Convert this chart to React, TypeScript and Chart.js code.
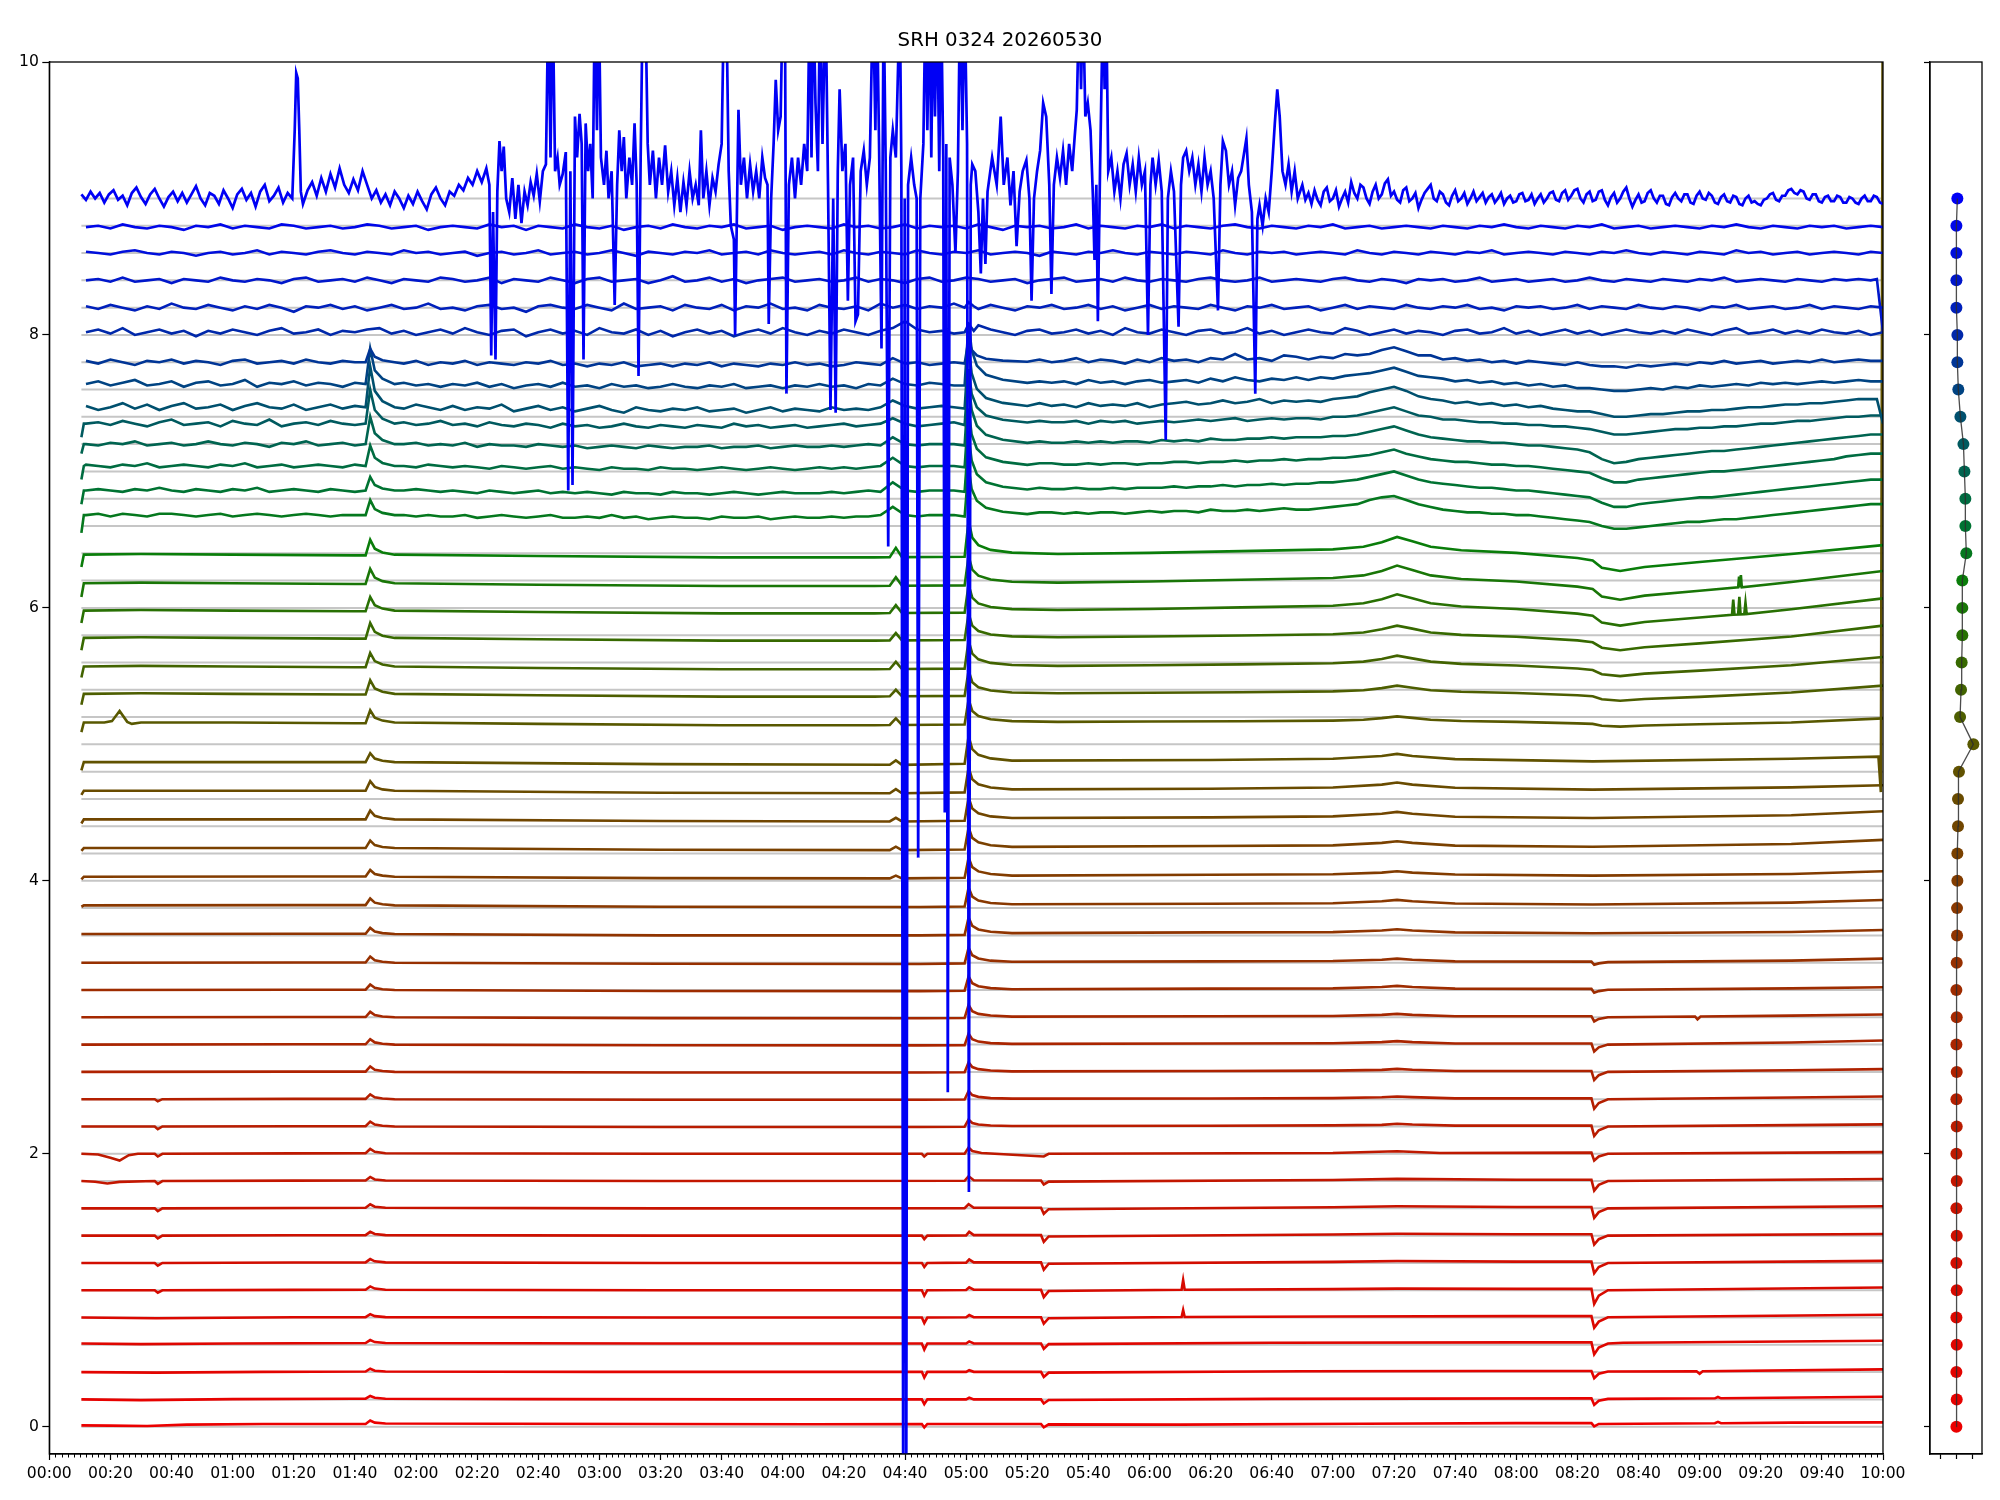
import React, { useEffect, useRef } from "react";
import { Chart, registerables } from "chart.js";
Chart.register(...registerables);

const TITLE = "SRH 0324 20260530";
const X_MAJOR = [0,20,40,60,80,100,120,140,160,180,200,220,240,260,280,300,320,340,360,380,400,420,440,460,480,500,520,540,560,580,600];
const X_TICK_LABELS = ["00:00","00:20","00:40","01:00","01:20","01:40","02:00","02:20","02:40","03:00","03:20","03:40","04:00","04:20","04:40","05:00","05:20","05:40","06:00","06:20","06:40","07:00","07:20","07:40","08:00","08:20","08:40","09:00","09:20","09:40","10:00"];
const Y_TICKS = [0,2,4,6,8,10];
const PANEL_X_TICKS = [-1,0,1];

// channel baselines (grey reference lines / dots), bottom to top
const CHANNELS = [0,0.2,0.4,0.6,0.8,1.0,1.2,1.4,1.6,1.8,2.0,2.2,2.4,2.6,2.8,3.0,3.2,3.4,3.6,3.8,4.0,4.2,4.4,4.6,4.8,5.0,5.2,5.4,5.6,5.8,6.0,6.2,6.4,6.6,6.8,7.0,7.2,7.4,7.6,7.8,8.0,8.2,8.4,8.6,8.8,9.0];
// observed trace level at the start of the record, bottom to top
const LEVELS = [0.02,0.20,0.40,0.61,0.80,1.00,1.20,1.40,1.60,1.80,2.00,2.20,2.40,2.60,2.80,3.00,3.20,3.40,3.61,3.82,4.03,4.24,4.45,4.66,4.87,5.16,5.37,5.57,5.78,5.98,6.18,6.39,6.68,6.86,7.04,7.20,7.35,7.47,7.64,7.80,8.02,8.20,8.40,8.60,8.79,9.00];
// right panel dot offsets
const DOT_X = [-0.02,0,-0.02,0,-0.02,0,-0.02,0,-0.02,0,-0.02,0,-0.02,0,-0.02,0,-0.02,0,0.02,0.02,0.04,0.04,0.08,0.08,0.14,1.04,0.21,0.27,0.31,0.35,0.35,0.35,0.6,0.54,0.54,0.48,0.42,0.23,0.1,0.04,0.04,-0.02,-0.02,-0.02,-0.02,0.04];
const COLOR_STOPS = [[0,235,0,0],[1.0,215,10,0],[2.0,190,25,0],[3.0,165,40,0],[4.0,130,60,0],[4.6,105,75,0],[5.0,88,88,0],[5.6,55,105,0],[6.2,10,125,10],[6.6,0,115,50],[7.0,0,100,80],[7.4,0,80,110],[8.0,0,40,170],[8.6,0,15,220],[9.0,0,0,245]];

// 4-minute grid used by the noisier traces (values in hundredths)
const NOISE_T = [12,16,20,24,28,32,36,40,44,48,52,56,60,64,68,72,76,80,84,88,92,96,100,104,108,112,116,120,124,128,132,136,140,144,148,152,156,160,164,168,172,176,180,184,188,192,196,200,204,208,212,216,220,224,228,232,236,240,244,248,252,256,260,264,268,272,276,280,284,288,292,296,300,304,308,312,316,320,324,328,332,336,340,344,348,352,356,360,364,368,372,376,380,384,388,392,396,400,404,408,412,416,420,424,428,432,436,440,444,448,452,456,460,464,468,472,476,480,484,488,492,496,500,504,508,512,516,520,524,528,532,536,540,544,548,552,556,560,564,568,572,576,580,584,588,592,596,600];

// quiet traces: [minute, offset]
const C00 = [[10.5,-0.01],[20,-0.012],[32,-0.015],[45,-0.005],[70,0],[100,0],[103.5,0],[105,0.025],[106.5,0.01],[110,0.004],[150,0.002],[200,0],[250,-0.002],[285.5,0],[286.3,-0.025],[287.3,0],[324.5,0],[325.4,-0.025],[327,-0.003],[370,-0.005],[430,0.002],[480,0.006],[504.6,0.006],[505.5,-0.018],[507,0],[545,0.005],[546,0.015],[547,0.005],[570,0.01],[600,0.012]];
const C02 = [[10.5,0],[30,-0.005],[60,0.002],[100,0.005],[103.5,0.005],[105,0.025],[106.5,0.012],[110,0.005],[160,0.002],[230,0],[285.5,0],[286.3,-0.035],[287.3,0],[300,0],[301,0.012],[302.5,0],[324.5,0],[325.4,-0.03],[327,-0.004],[400,0.004],[450,0.006],[504.6,0.008],[505.5,-0.04],[507,-0.01],[510,0.004],[545,0.008],[546,0.018],[547,0.008],[600,0.02]];
const C04 = [[10.5,0],[35,-0.004],[70,0.002],[103.5,0.004],[105,0.025],[106.5,0.01],[110,0.004],[180,0.002],[285.5,0.002],[286.3,-0.04],[287.3,0.002],[300,0.002],[301,0.014],[302.5,0.002],[324.5,0.002],[325.4,-0.035],[327,-0.004],[410,0.006],[470,0.008],[504.6,0.008],[505.5,-0.045],[507,-0.012],[510,0.004],[539,0.006],[540,-0.012],[541,0.006],[600,0.02]];
const C06 = [[10.5,0],[30,-0.005],[60,0],[103.5,0.003],[105,0.025],[106.5,0.01],[110,0.003],[200,0],[285.5,0],[286.3,-0.045],[287.3,0],[300,0],[301,0.015],[302.5,0],[324.5,0],[325.4,-0.04],[327,-0.005],[400,0.005],[480,0.008],[504.6,0.008],[505.5,-0.08],[507,-0.03],[510,0],[515,0.005],[600,0.02]];
const C08 = [[10.5,0],[35,-0.005],[80,0.002],[103.5,0.003],[105,0.025],[106.5,0.01],[110,0.003],[200,0],[285.5,0],[286.3,-0.04],[287.3,0],[300,0.002],[301,0.018],[302.5,0.002],[324.5,0.002],[325.4,-0.045],[327,-0.005],[370.5,0.004],[371,0.055],[371.5,0.004],[420,0.008],[480,0.01],[504.6,0.01],[505.5,-0.075],[507,-0.03],[510,0.002],[600,0.02]];
const C10 = [[10.5,0],[34.5,0],[35.5,-0.018],[37,0],[80,0.003],[103.5,0.004],[105,0.028],[106.5,0.012],[110,0.004],[200,0],[285.5,0],[286.3,-0.04],[287.3,0],[300,0.002],[301,0.022],[302.5,0.004],[324.5,0.004],[325.4,-0.05],[327,-0.006],[370.5,0.004],[371,0.075],[371.5,0.004],[420,0.008],[441,0.012],[480,0.01],[504.6,0.01],[505.5,-0.1],[507,-0.04],[510,0],[600,0.02]];
const C12 = [[10.5,0],[34.5,0],[35.5,-0.02],[37,0],[80,0.003],[103.5,0.004],[105,0.028],[106.5,0.012],[110,0.004],[200,0],[285.5,0],[286.3,-0.03],[287.3,0],[300,0.002],[301,0.025],[302.5,0.004],[324.5,0.004],[325.4,-0.05],[327,-0.006],[420,0.008],[441,0.014],[480,0.01],[504.6,0.01],[505.5,-0.075],[507,-0.03],[510,0],[600,0.015]];
const C14 = [[10.5,0],[34.5,0],[35.5,-0.02],[37,0],[80,0.003],[103.5,0.004],[105,0.028],[106.5,0.012],[110,0.004],[200,0],[285.5,0],[286.3,-0.025],[287.3,0],[300,0.002],[301,0.028],[302.5,0.004],[324.5,0.004],[325.4,-0.045],[327,-0.006],[420,0.008],[441,0.014],[480,0.01],[504.6,0.01],[505.5,-0.065],[507,-0.026],[510,0],[600,0.012]];
const C16 = [[10.5,0],[34.5,0],[35.5,-0.02],[37,0],[80,0.003],[103.5,0.004],[105,0.03],[106.5,0.012],[110,0.004],[200,0],[299.5,0.002],[300.8,0.03],[302.5,0.004],[324.5,0.004],[325.4,-0.04],[327,-0.006],[420,0.008],[441,0.015],[480,0.01],[504.6,0.01],[505.5,-0.07],[507,-0.028],[510,0],[600,0.015]];
const C18 = [[10.5,0],[15,-0.005],[19,-0.018],[23,-0.006],[34.5,0],[35.5,-0.02],[37,0],[80,0.003],[103.5,0.004],[105,0.03],[106.5,0.012],[110,0.004],[200,0],[299.5,0.002],[300.8,0.035],[302.5,0.006],[324.5,0.004],[325.4,-0.025],[327,-0.004],[420,0.008],[441,0.016],[480,0.01],[504.6,0.01],[505.5,-0.07],[507,-0.028],[510,0],[600,0.015]];
const C20 = [[10.5,0],[16,-0.005],[20,-0.03],[23,-0.05],[26,-0.01],[29,0],[34.5,0],[35.5,-0.02],[37,0],[80,0.003],[103.5,0.004],[105,0.035],[106.5,0.014],[110,0.004],[200,0],[285.5,0],[286.3,-0.02],[287.3,0],[299.5,0],[300.8,0.045],[302,0.02],[305,0.006],[325.4,-0.02],[327,0],[420,0.006],[441,0.018],[455,0.006],[504.6,0.008],[505.5,-0.05],[507,-0.02],[510,0],[600,0.012]];
const C22 = [[10.5,0],[34.5,0],[35.5,-0.02],[37,0],[80,0.002],[103.5,0.002],[105,0.035],[106.5,0.014],[109,0.005],[113,0],[200,-0.004],[285,-0.004],[299.5,-0.002],[300.8,0.05],[302,0.025],[304,0.014],[308,0.007],[315,0.003],[380,0.005],[420,0.008],[436,0.012],[441,0.02],[446,0.014],[460,0.006],[504.6,0.006],[505.5,-0.07],[507,-0.028],[510,0],[570,0.01],[600,0.015]];
const C24 = [[10.5,0],[34.5,0],[35.5,-0.015],[37,0],[80,0.002],[103.5,0.002],[105,0.035],[106.5,0.014],[109,0.005],[113,0],[200,-0.004],[285,-0.004],[299.5,-0.002],[300.8,0.06],[302,0.03],[304,0.017],[308,0.008],[315,0.004],[380,0.005],[420,0.008],[436,0.014],[441,0.02],[446,0.015],[460,0.006],[504.6,0.006],[505.5,-0.07],[507,-0.028],[510,0],[570,0.012],[600,0.02]];
const C26 = [[10.5,0],[80,0.002],[103.5,0.002],[105,0.04],[106.5,0.016],[109,0.006],[113,0],[200,-0.005],[285,-0.005],[299.5,-0.003],[300.8,0.07],[302,0.035],[304,0.02],[308,0.01],[315,0.004],[380,0.006],[420,0.009],[436,0.015],[441,0.022],[446,0.016],[460,0.007],[504.6,0.007],[505.5,-0.06],[507,-0.024],[510,0],[570,0.012],[600,0.02]];
const C28 = [[10.5,0],[80,0.002],[103.5,0.002],[105,0.04],[106.5,0.016],[109,0.006],[113,0],[200,-0.005],[285,-0.006],[299.5,-0.004],[300.8,0.08],[302,0.04],[304,0.022],[308,0.011],[315,0.005],[380,0.008],[420,0.01],[436,0.018],[441,0.025],[446,0.018],[460,0.008],[504.6,0.008],[505.5,-0.05],[507,-0.02],[510,0],[570,0.015],[600,0.03]];
const C30 = [[10.5,0],[80,0.002],[103.5,0.002],[105,0.04],[106.5,0.016],[109,0.006],[113,0],[200,-0.006],[285,-0.007],[299.5,-0.005],[300.8,0.09],[302,0.045],[304,0.025],[308,0.013],[315,0.005],[380,0.008],[420,0.01],[436,0.018],[441,0.025],[446,0.018],[460,0.008],[504.6,0.008],[505.5,-0.03],[507,-0.012],[510,0],[538.5,0.006],[539.3,-0.015],[540.3,0.006],[570,0.012],[600,0.02]];
const C32 = [[10.5,0],[80,0.002],[103.5,0.002],[105,0.04],[106.5,0.016],[109,0.006],[113,0],[200,-0.007],[285,-0.008],[299.5,-0.005],[300.8,0.1],[302,0.05],[304,0.028],[308,0.014],[315,0.006],[380,0.01],[420,0.012],[436,0.022],[441,0.03],[446,0.022],[460,0.01],[504.6,0.008],[505.5,-0.02],[507,-0.008],[510,0.002],[570,0.012],[600,0.02]];
const C34 = [[10.5,0],[80,0.002],[103.5,0.002],[105,0.045],[106.5,0.018],[109,0.007],[113,0],[200,-0.008],[285,-0.009],[299.5,-0.005],[300.8,0.11],[302,0.055],[304,0.031],[308,0.015],[315,0.007],[380,0.01],[420,0.012],[436,0.022],[441,0.03],[446,0.022],[460,0.01],[504.6,0.008],[505.5,-0.015],[507,-0.005],[510,0.004],[570,0.015],[600,0.03]];
const C36 = [[10.5,0],[80,0.002],[103.5,0.002],[105,0.045],[106.5,0.018],[109,0.007],[113,0],[200,-0.01],[285,-0.01],[299.5,-0.006],[300.8,0.12],[302,0.06],[304,0.034],[308,0.017],[315,0.007],[380,0.012],[420,0.014],[436,0.026],[441,0.035],[446,0.026],[460,0.012],[505,0.006],[570,0.015],[600,0.03]];
const C38 = [[10.5,-0.01],[11.3,0],[80,0.002],[103.5,0.002],[105,0.05],[106.5,0.02],[109,0.008],[113,0],[200,-0.01],[285,-0.012],[299.5,-0.008],[300.8,0.13],[302,0.065],[304,0.036],[308,0.018],[315,0.008],[380,0.012],[420,0.016],[436,0.03],[441,0.04],[446,0.03],[460,0.014],[505,0.006],[570,0.02],[600,0.04]];
const C40 = [[10.5,-0.02],[11.3,0],[80,0.002],[103.5,0.002],[105,0.05],[106.5,0.02],[109,0.008],[113,0],[200,-0.01],[275,-0.012],[277,0.008],[279,-0.012],[299.5,-0.008],[300.8,0.14],[302,0.07],[304,0.039],[308,0.02],[315,0.008],[380,0.014],[420,0.018],[436,0.03],[441,0.04],[446,0.03],[460,0.016],[505,0.008],[570,0.02],[600,0.04]];
const C42 = [[10.5,-0.02],[11.3,0],[80,0],[103.5,0],[105,0.055],[106.5,0.022],[109,0.008],[113,0],[200,-0.012],[275,-0.015],[277,0.01],[279,-0.015],[299.5,-0.01],[300.8,0.15],[302,0.075],[304,0.042],[308,0.021],[315,0.009],[380,0.015],[420,0.02],[436,0.038],[441,0.05],[446,0.038],[460,0.018],[505,0.01],[570,0.03],[600,0.06]];
const C44 = [[10.5,-0.03],[11.3,0],[80,0],[103.5,0],[105,0.065],[106.5,0.026],[109,0.01],[113,0],[200,-0.012],[275,-0.015],[277,0.012],[279,-0.015],[299.5,-0.01],[300.8,0.16],[302,0.08],[304,0.045],[308,0.022],[315,0.01],[380,0.015],[420,0.022],[436,0.042],[441,0.055],[446,0.042],[460,0.02],[505,0.01],[570,0.03],[600,0.06]];
const C46 = [[10.5,-0.03],[11.3,0],[80,0],[103.5,0],[105,0.07],[106.5,0.028],[109,0.01],[113,0],[200,-0.015],[275,-0.018],[277,0.012],[279,-0.018],[299.5,-0.012],[300.8,0.17],[302,0.085],[304,0.048],[308,0.024],[315,0.01],[380,0.015],[420,0.024],[436,0.045],[441,0.06],[446,0.045],[460,0.022],[505,0.008],[570,0.025],[600,0.04]];
const C48 = [[10.5,-0.06],[11.3,0],[80,0],[103.5,0],[105,0.065],[106.5,0.026],[109,0.01],[113,0],[200,-0.015],[275,-0.02],[277,0.012],[279,-0.02],[299.5,-0.012],[300.8,0.19],[302,0.095],[304,0.053],[308,0.027],[315,0.011],[380,0.015],[420,0.024],[436,0.045],[441,0.06],[446,0.045],[460,0.022],[505,0.005],[570,0.025],[598.5,0.04],[599.3,-0.22],[600,6.5]];
const C50 = [[10.5,-0.07],[11.3,0],[18,0],[20.5,0.01],[23,0.085],[25.5,0.005],[27,-0.01],[30,0],[60,0],[100,-0.005],[103.5,-0.005],[105,0.09],[106.5,0.036],[109,0.014],[113,0],[160,-0.01],[220,-0.02],[270,-0.02],[275,-0.018],[277,0.03],[279,-0.018],[299.5,-0.015],[300.8,0.17],[302,0.085],[304,0.048],[308,0.024],[315,0.01],[330,0.005],[360,0.008],[390,0.009],[420,0.014],[430,0.02],[436,0.032],[441,0.045],[446,0.034],[452,0.02],[462,0.011],[480,0.005],[500,-0.006],[505,-0.01],[508,-0.024],[514,-0.03],[522,-0.022],[540,-0.013],[570,0],[600,0.03]];
const C52 = [[10.5,-0.08],[11.3,0],[30,0.005],[60,0],[100,-0.005],[103.5,-0.005],[105,0.1],[106.5,0.04],[109,0.015],[113,0],[160,-0.01],[220,-0.02],[270,-0.02],[275,-0.018],[277,0.03],[279,-0.018],[299.5,-0.015],[300.8,0.17],[302,0.085],[304,0.048],[308,0.024],[315,0.01],[330,0.005],[360,0.008],[390,0.012],[420,0.018],[430,0.027],[436,0.042],[441,0.06],[446,0.045],[452,0.027],[462,0.015],[480,0.006],[500,-0.01],[505,-0.018],[508,-0.04],[514,-0.05],[522,-0.038],[540,-0.022],[570,0.01],[600,0.06]];
const C54 = [[10.5,-0.08],[11.3,0],[30,0.005],[60,0],[100,-0.005],[103.5,-0.005],[105,0.1],[106.5,0.04],[109,0.015],[113,0],[160,-0.01],[220,-0.02],[270,-0.02],[275,-0.018],[277,0.035],[279,-0.018],[299.5,-0.015],[300.8,0.19],[302,0.095],[304,0.053],[308,0.027],[315,0.011],[330,0.005],[360,0.01],[390,0.016],[420,0.024],[430,0.036],[436,0.056],[441,0.08],[446,0.06],[452,0.036],[462,0.02],[480,0.008],[500,-0.014],[505,-0.025],[508,-0.056],[514,-0.07],[522,-0.052],[540,-0.03],[570,0.01],[600,0.07]];
const C56 = [[10.5,-0.09],[11.3,0],[30,0.005],[60,0],[100,-0.005],[103.5,-0.005],[105,0.11],[106.5,0.044],[109,0.016],[113,0],[160,-0.01],[220,-0.02],[270,-0.02],[275,-0.018],[277,0.035],[279,-0.018],[299.5,-0.015],[300.8,0.18],[302,0.09],[304,0.05],[308,0.025],[315,0.011],[330,0.005],[360,0.01],[390,0.018],[420,0.027],[430,0.04],[436,0.063],[441,0.09],[446,0.068],[452,0.04],[462,0.022],[480,0.009],[500,-0.018],[505,-0.032],[508,-0.072],[514,-0.09],[522,-0.068],[540,-0.04],[570,0.01],[600,0.09]];
const C58 = [[10.5,-0.09],[11.3,0],[30,0.005],[60,0],[100,-0.005],[103.5,-0.005],[105,0.1],[106.5,0.04],[109,0.015],[113,0],[160,-0.01],[220,-0.02],[270,-0.02],[275,-0.018],[277,0.04],[279,-0.018],[299.5,-0.015],[300.8,0.19],[302,0.095],[304,0.053],[308,0.027],[315,0.011],[330,0.005],[360,0.012],[390,0.024],[420,0.036],[430,0.054],[436,0.084],[441,0.12],[446,0.09],[452,0.054],[462,0.03],[480,0.012],[500,-0.022],[505,-0.038],[508,-0.088],[514,-0.11],[522,-0.083],[540,-0.05],[550.6,-0.03],[551,0.08],[551.4,-0.03],[552.6,-0.028],[553,0.1],[553.4,-0.028],[554.6,-0.026],[555,0.06],[555.4,-0.026],[570,0.01],[600,0.09]];
const C60 = [[10.5,-0.1],[11.3,0],[30,0.005],[60,0],[100,-0.005],[103.5,-0.005],[105,0.105],[106.5,0.042],[109,0.016],[113,0],[160,-0.01],[220,-0.02],[270,-0.02],[275,-0.018],[277,0.045],[279,-0.018],[299.5,-0.015],[300.8,0.2],[302,0.1],[304,0.056],[308,0.028],[315,0.012],[330,0.005],[360,0.013],[390,0.026],[420,0.039],[430,0.058],[436,0.091],[441,0.13],[446,0.098],[452,0.058],[462,0.032],[480,0.013],[500,-0.024],[505,-0.042],[508,-0.096],[514,-0.12],[522,-0.09],[540,-0.054],[552.6,-0.03],[552.9,0.05],[553.2,-0.03],[553.5,0.06],[553.8,-0.03],[570,0.01],[600,0.09]];
const C62 = [[10.5,-0.09],[11.3,0],[30,0.005],[60,0],[100,-0.005],[103.5,-0.005],[105,0.11],[106.5,0.044],[109,0.016],[113,0],[160,-0.01],[220,-0.02],[270,-0.02],[275,-0.018],[277,0.05],[279,-0.018],[299.5,-0.015],[300.8,0.25],[302,0.125],[304,0.07],[308,0.035],[315,0.015],[330,0.005],[360,0.013],[390,0.026],[420,0.039],[430,0.058],[436,0.091],[441,0.13],[446,0.098],[452,0.058],[462,0.032],[480,0.013],[500,-0.024],[505,-0.042],[508,-0.096],[514,-0.12],[522,-0.09],[540,-0.054],[570,0.005],[600,0.07]];

// noisier traces on NOISE_T (hundredths) + feature groups [minute, offset]
const N64 = [0,1,-1,1,0,-1,1,1,0,-1, 0,1,-1,0,1,0,-1,0,1,0, -1,0,0,0,0,0,0,-1,0,-1, -1,0,-2,-1,0,-1,-2,-1,0,-2, -2,-1,-2,0,-2,-1,-3,-2,-1,-2, -2,-3,-1,-2,-2,-1,-3,-2,-1,-2, -2,-1,-2,-1,-1,0,6,0,-1,0, 0,0,0,0,0,0,0,0,2,2, 1,2,1,2,2,1,2,3,2,3, 3,2,4,3,3,4,3,4,5,4, 4,5,6,7,8,11,13,14,11,8, 6,4,3,2,2,1,1,0,0,-1, -2,-3,-4,-5,-8,-10,-10,-9,-8,-7, -6,-5,-5,-4,-3,-3,-2,-1,0,1, 2,3,4,5,6,7,8,8];
const N66 = [0,1,0,-1,1,0,2,0,-1,1, 0,-1,1,0,2,-1,0,1,0,-1, 1,0,-1,0,0,0,0,1,0,-1, 0,-1,-2,0,-1,-2,-1,0,-2,-1, -2,-1,-2,-3,-1,-2,-2,-3,-1,-2, -2,-3,-2,-1,-2,-3,-2,-1,-2,-2, -2,-1,-2,-1,0,-1,6,0,-1,0, 0,0,0,0,0,0,0,0,2,1, 1,2,1,1,2,1,2,2,2,3, 2,3,3,4,3,4,4,5,4,5, 5,6,6,7,8,10,12,14,11,8, 6,5,4,3,2,2,1,0,0,-1, -2,-3,-4,-5,-9,-12,-12,-10,-9,-8, -7,-6,-5,-5,-4,-3,-2,-1,0,1, 2,3,4,5,6,7,8,8];
const N68 = [1,0,-1,1,0,2,-1,0,1,0, -1,1,0,2,-1,0,1,-1,0,1, 0,-1,1,0,0,0,0,-1,1,0, -1,0,-1,-2,0,-1,-2,-1,0,-2, -1,-2,-3,-1,-2,-2,-3,-1,-2,-2, -3,-2,-1,-2,-3,-2,-1,-2,-3,-2, -1,-2,-1,-2,-1,0,6,0,-1,0, 0,0,0,0,0,0,0,0,2,2, 1,1,2,1,2,2,1,2,2,3, 3,2,3,3,4,3,4,4,5,4, 5,5,6,6,7,8,10,12,9,7, 5,4,3,3,2,1,1,0,0,-1, -2,-3,-4,-5,-9,-12,-12,-10,-9,-8, -7,-6,-5,-4,-4,-3,-2,-1,0,1, 2,3,4,5,7,8,9,9];
const N70 = [0,-1,1,0,2,-1,0,1,-1,0, 2,0,-1,1,0,-2,1,0,2,-1, 0,1,-1,0,0,0,0,1,-1,0, -1,1,-2,0,-1,-1,-2,0,-1,-2, -1,-3,-2,-1,-2,-3,-1,-2,-3,-2, -2,-1,-3,-2,-2,-1,-3,-2,-1,-2, -2,-1,-2,-1,0,-1,5,0,-1,0, 0,0,0,0,0,0,0,0,2,1, 1,2,1,2,1,2,2,1,3,2, 3,2,4,3,3,4,4,5,4,5, 5,5,6,6,7,9,11,13,10,7, 5,4,3,2,2,1,1,0,-1,-1, -2,-3,-4,-6,-11,-14,-13,-11,-10,-9, -8,-7,-6,-5,-5,-4,-3,-2,-1,0, 1,2,3,4,5,6,7,7];
const N72 = [0,1,-1,2,0,-2,1,3,-1,0, 1,-2,2,0,-1,3,-2,0,1,-1, 2,0,-1,1,0,0,1,-1,0,2, -1,0,-2,1,-1,-2,0,-1,-3,0, -2,-1,-3,-2,0,-2,-3,-1,-2,-3, -1,-2,-3,0,-2,-1,-3,-2,-1,-3, -2,-1,0,-2,-1,0,4,0,-2,-1, 0,1,0,0,0,0,0,0,2,1, 1,2,0,2,1,2,0,1,2,1, 2,3,2,3,4,2,3,4,3,4, 4,3,5,5,6,8,10,12,9,6, 5,3,3,2,1,1,0,0,-1,-1, -2,-2,-3,-4,-6,-8,-8,-7,-6,-5, -4,-4,-3,-3,-2,-2,-1,0,0,1, 2,2,3,4,5,5,6,6];
const N74 = [1,-2,0,3,-1,2,-2,1,3,-1, 0,2,-2,1,3,0,-1,2,-2,0, 2,-1,1,0,0,0,-1,2,0,-2, 1,-2,0,-1,2,-3,-1,1,-2,0, -3,-1,1,-2,-4,0,-2,-3,-1,-2, 0,-3,-2,-1,-4,-2,0,-3,-1,-2, -3,0,-2,-1,-2,0,5,1,-1,0, 1,0,0,0,0,0,0,0,3,1, 2,0,3,1,2,1,3,0,2,3, 4,2,3,5,3,4,6,3,5,4, 5,4,6,7,8,11,13,15,12,8, 6,5,3,4,2,3,1,2,0,1, -1,-2,-3,-3,-5,-7,-7,-6,-5,-5, -4,-3,-3,-2,-2,-1,0,0,1,2, 2,3,3,4,5,6,6,6];
const N76 = [0,2,-1,1,3,-1,0,2,-2,1, 2,-1,0,3,-2,1,0,2,-1,1, 0,-2,1,0,0,0,1,-1,0,-2, 0,-1,1,-2,0,-3,-1,0,-2,1, -2,-1,-3,0,-2,-1,-3,-2,0,-2, -3,-1,-2,0,-3,-2,-1,-3,-1,-2, 0,-2,-1,-3,0,-1,4,0,-1,1, 0,-1,0,0,0,0,0,0,2,1, 2,0,3,1,2,0,2,3,1,2, 3,1,4,2,5,3,2,4,3,5, 3,5,4,6,7,8,10,12,9,6, 5,4,2,3,1,2,0,1,-1,0, -2,-1,-3,-3,-4,-5,-5,-4,-3,-4, -2,-3,-1,-2,-1,0,-1,1,0,1, 0,1,2,1,2,3,2,2];
const N78 = [1,-1,2,0,-2,1,0,2,-1,1, 0,-2,1,2,-1,0,1,-1,2,0, -1,1,0,0,0,0,-1,1,-2,0, -1,1,-2,0,-1,-2,0,-1,1,-2, -1,-3,-1,-2,0,-3,-2,-1,-3,-1, -2,0,-3,-1,-2,-3,-1,-2,0,-2, -1,-3,-2,0,-1,-2,3,-1,0,-2, -1,0,0,0,0,0,0,0,2,0, 1,3,0,2,1,-1,2,0,3,1, 2,0,3,2,6,2,3,1,5,4, 2,4,3,6,5,6,9,11,8,5, 5,2,3,1,2,0,1,-1,1,0, -1,-2,0,-2,-3,-3,-4,-2,-3,-2, -1,-2,0,-1,1,-1,0,1,-1,0, 1,0,2,0,1,2,1,1];
const N80 = [0,2,-1,3,-2,0,2,-1,1,-3, 1,-1,2,0,-2,1,3,-1,0,2, -2,1,0,2,3,-1,1,-2,0,2, -1,3,0,-2,1,2,-3,0,2,-1, 1,-2,3,0,-1,2,-2,1,-3,0, 2,-1,1,-3,0,2,-1,3,0,-2, 1,-1,2,0,-2,1,3,8,2,0, 1,-1,3,5,2,0,-2,1,2,-1, 0,2,-1,1,-2,3,0,-1,2,0, -2,1,2,-1,0,3,-1,1,-2,0, 2,0,-1,3,1,-2,0,2,-1,1, 0,-2,1,2,-1,0,3,-1,1,-2, 0,2,-1,1,-2,0,2,0,-1,1, -1,2,0,-2,1,3,-1,0,2,-1, 1,-1,2,0,-1,1,-2,0];
const N82 = [1,-1,2,0,-2,1,-1,3,0,-1, 2,0,-2,1,-1,2,0,-3,1,0, 2,-1,1,-2,0,2,-1,0,3,-1, 0,-2,1,2,-1,0,-3,1,2,0, -1,2,0,-2,3,-1,0,1,-2,2, 0,-1,2,-2,1,0,3,-1,0,-2, 2,0,-1,1,-2,3,0,2,-1,1, 0,3,1,-1,2,0,-2,1,0,2, -1,0,2,-1,1,-2,0,2,-1,1, 0,-1,2,0,-2,1,0,2,-1,0, 1,-2,0,2,-1,1,0,-1,2,0, -1,1,0,2,-1,0,-2,1,0,1, -1,0,2,-1,1,0,-1,2,0,-1, 1,0,-2,1,0,2,-1,0,1,-1, 0,2,-1,1,0,-1,1,0];
const N84 = [0,1,-1,2,-1,0,1,-2,1,0, -1,2,0,-1,1,0,-2,1,2,-1, 0,1,-1,2,0,-2,1,0,-1,2, 1,-1,0,2,-2,1,0,-1,2,0, -2,1,2,-1,0,1,-2,0,3,-1, 0,2,-1,1,-2,0,1,2,-1,0, 1,-1,0,2,-1,1,0,-2,1,2, -1,0,2,1,-1,0,1,-2,0,1, 2,-1,0,1,-1,2,0,-1,1,0, -1,1,2,0,-1,0,2,-1,0,1, 0,-1,1,2,0,-1,1,0,-2,1, 0,1,-1,0,2,-1,0,1,-1,0, 1,-1,0,2,0,-1,1,0,-1,1, 0,-1,1,0,2,-1,0,1,0,-1, 1,0,-1,1,0,1,0,0];
const N86 = [1,0,-1,1,2,0,-1,1,0,-2, 0,1,-1,0,2,-1,1,0,-1,1, 2,0,-1,1,0,-1,2,0,1,-1, 0,1,-2,0,1,-1,0,2,-1,0, 1,-1,0,2,0,-2,1,0,-1,1, 0,2,-1,0,1,-1,2,0,-1,0, 1,-1,2,0,-1,1,0,-1,2,0, -1,1,0,2,-1,0,1,0,-2,1, 0,-1,1,0,2,0,-1,1,0,-1, 1,0,-1,2,0,-1,1,0,1,-1, 0,1,0,-1,2,0,-1,1,0,-1, 1,0,-1,1,0,2,-1,0,1,0, -1,1,0,-1,1,0,2,0,-1,1, 0,-1,1,0,-1,2,0,1,-1,0, 1,-1,0,1,0,-1,1,0];
const N88 = [0,1,-1,2,0,-1,1,0,-2,1, 0,2,-1,1,0,-1,2,1,-1,0, 1,-1,0,2,1,-1,0,1,-2,0, 1,0,-1,2,0,1,-2,1,0,-1, 2,0,-1,1,-2,0,1,-1,2,0, -1,1,0,2,-1,0,1,-2,0,1, 0,-1,2,0,1,-1,0,2,-1,1, 0,1,-1,2,0,-2,1,0,1,-1, 0,2,-1,1,0,-1,1,0,2,-1, 1,0,-1,1,2,0,-1,1,0,-1, 1,0,2,-1,0,1,-1,0,1,0, -1,1,0,-1,1,0,2,0,-1,1, 0,-1,1,0,2,-1,0,1,-1,0, 1,0,-1,1,0,2,0,-1,1,0, -1,1,0,1,-1,0,1,0];

const S64 = [[[10.5,-0.13],[11.3,0]],[[103.5,0],[105,0.11],[106.5,0.044],[109,0.016],[113,0]],[[299.5,-0.01],[300.8,0.35],[301.8,0.19],[303.5,0.105],[306.5,0.053],[312,0.025],[320,0.007]]];
const S66 = [[[10.5,-0.1],[11.3,0]],[[103.5,0],[105,0.1],[106.5,0.04],[109,0.015],[113,0]],[[299.5,-0.01],[300.8,0.4],[301.8,0.22],[303.5,0.12],[306.5,0.06],[312,0.028],[320,0.008]]];
const S68 = [[[10.5,-0.1],[11.3,0]],[[103.5,0],[105,0.15],[106.5,0.06],[109,0.022],[113,0]],[[299.5,-0.01],[300.8,0.42],[301.8,0.23],[303.5,0.126],[306.5,0.063],[312,0.03],[320,0.008]]];
const S70 = [[[10.5,-0.07],[11.3,0]],[[103.5,0],[105,0.2],[106.5,0.08],[109,0.03],[113,0]],[[299.5,-0.01],[300.8,0.45],[301.8,0.25],[303.5,0.135],[306.5,0.068],[312,0.032],[320,0.009]]];
const S72 = [[[10.5,-0.1],[11.3,0]],[[103.5,0],[105,0.25],[106.5,0.1],[109,0.037],[113,0]],[[299.5,-0.01],[300.8,0.4],[301.8,0.22],[303.5,0.12],[306.5,0.06],[312,0.028],[320,0.008]]];
const S74 = [[[103.5,0],[105,0.3],[106.5,0.12],[109,0.045],[113,0]],[[299.5,-0.01],[300.8,0.45],[301.8,0.25],[303.5,0.135],[306.5,0.068],[312,0.032],[320,0.009]],[[598,0.06],[600,-0.12]]];
const S76 = [[[103.5,0],[105,0.26],[106.5,0.1],[109,0.04],[113,0]],[[299.5,-0.01],[300.8,0.45],[301.8,0.25],[303.5,0.135],[306.5,0.068],[312,0.032],[320,0.009]]];
const S78 = [[[103.5,0],[105,0.1],[106.5,0.04],[109,0.015],[113,0]],[[299.5,-0.01],[300.8,0.17],[301.8,0.09],[303.5,0.05],[306.5,0.026],[312,0.012],[320,0.004]]];
const S80 = [[[299.5,0],[300.8,0.06],[302.5,0.01]]];
const S82 = [[[299.5,0],[300.8,0.04],[302.5,0.01]]];
const S84 = [[[598,0.01],[600,-0.38]]];
const S86 = [];
const S88 = [];

// top trace (absolute values)
const TOP = [[10.5,9.03],[12,8.99],[13.5,9.05],[15,9.0],[16.5,9.04],[18,8.97],[19.5,9.03],[21,9.06],[22.5,8.99],[24,9.02],[25.5,8.95],[27,9.04],[28.5,9.08],[30,9.01],[31.5,8.96],[33,9.03],[34.5,9.07],[36,9.0],[37.5,8.94],[39,9.01],[40.5,9.05],[42,8.98],[43.5,9.04],[45,8.97],[46.5,9.03],[48,9.09],[49.5,9.0],[51,8.95],[52.5,9.04],[54,9.02],[55.5,8.96],[57,9.06],[58.5,9.0],[60,8.93],[61.5,9.03],[63,9.07],[64.5,8.99],[66,9.04],[67.5,8.94],[69,9.05],[70.5,9.1],[72,8.98],[73.5,9.02],[75,9.08],[76.5,8.97],[78,9.04],
[79.5,9.0],[80.3,9.5],[80.8,9.92],[81.3,9.88],[81.8,9.5],[82.3,9.05],[83,8.96],
[84.5,9.06],[86,9.12],[87.5,9.02],[89,9.15],[90.5,9.05],[92,9.18],[93.5,9.08],[95,9.22],[96.5,9.1],[98,9.04],[99.5,9.14],[101,9.06],[102.5,9.2],[104,9.1],[105.5,9.0],[107,9.06],[108.5,8.97],[110,9.03],[111.5,8.95],[113,9.05],[114.5,9.0],[116,8.93],[117.5,9.02],[119,8.96],[120.5,9.05],[122,8.98],[123.5,8.92],[125,9.03],[126.5,9.08],[128,9.0],[129.5,8.95],[131,9.05],[132.5,9.02],[134,9.1],[135.5,9.06],[137,9.15],[138.5,9.1],[140,9.2],[141.5,9.12],[143,9.22],
[144,9.1],[144.6,7.85],[145.2,8.9],[146,7.82],[146.6,9.05],[147.3,9.42],[148,9.2],[148.7,9.38],[149.5,9.0],[150.5,8.9],[151.5,9.15],[152.5,8.85],[153.5,9.1],[154.5,8.82],[155.5,9.05],[156.5,8.95],[157.5,9.12],[158.5,9.02],[159.5,9.18],[160.5,8.98],[161.5,9.2],[162.5,9.25],[163.3,10.5],[164,9.3],[164.7,10.5],[165.5,9.2],[166.3,9.3],[167,9.1],[168,9.18],[169,9.34],[169.8,6.86],[170.5,9.2],[171.2,6.9],[172,9.6],[172.7,9.3],[173.5,9.62],[174.2,9.4],[174.8,7.82],[175.5,9.55],[176.3,9.2],[177,9.4],[177.8,9.0],[178.5,10.5],[179.2,9.5],[179.8,10.5],[180.5,9.3],[181.5,9.1],[182.3,9.35],[183,9.0],[184,9.2],[185,8.22],[185.8,9.1],[186.5,9.5],[187.3,9.2],[188,9.45],[188.8,9.0],[189.8,9.3],[190.7,9.1],[191.5,9.55],[192.2,9.1],[192.8,7.7],[193.5,9.3],[194.2,10.5],[195,10.5],[195.8,9.4],[196.5,9.1],[197.5,9.35],[198.5,9.0],[199.5,9.3],[200.5,9.1],[201.5,9.39],[202.5,9.05],[203.5,9.2],[204.5,8.95],[205.5,9.15],[206.5,8.9],[207.5,9.12],[208.5,8.95],[209.5,9.2],[210.5,9.0],[211.5,9.1],[212.5,8.95],[213.2,9.5],[214,9.0],[215,9.2],[216,8.95],[217,9.15],[218,9.05],[219,9.25],[220,9.4],[220.8,10.5],[221.5,10.5],[222.3,9.2],[223,8.8],[224,8.7],[224.4,8.0],[225,8.9],[225.5,9.65],[226.3,9.1],[227.3,9.3],[228.3,9.0],[229.3,9.25],[230.3,9.05],[231.3,9.2],[232.3,9.0],[233.3,9.3],[234.2,9.15],[235,9.1],[235.4,8.08],[236.2,9.0],[237,9.4],[237.7,9.87],[238.5,9.5],[239.3,9.6],[240,10.5],[240.7,10.5],[241.2,7.57],[242,9.1],[243,9.3],[244,9.0],[245,9.3],[246,9.1],[247,9.4],[248,9.2],[248.8,10.5],[249.4,9.3],[250,10.5],[250.7,9.7],[251.5,9.2],[252.2,10.5],[253,9.4],[254,10.5],[254.8,9.1],[255.6,7.45],[256.5,9.0],[257.3,7.43],[258,9.2],[258.6,9.8],[259.5,9.2],[260.5,9.4],[261.3,8.25],[262,9.1],[263,9.3],[263.8,8.1],[264.6,8.15],[265.5,9.2],[266.5,9.35],[267.5,9.1],[268.5,9.3],[269.5,10.5],[270.3,9.5],[270.8,10.5],[271.5,9.4],[272.3,7.9],[273,10.5],[273.7,9.2],[274.5,6.45],[275.2,9.3],[276,9.5],[277,9.3],[278.3,10.5],[278.8,9.2],[279.4,-0.5],[279.9,9.0],[280.4,-0.5],[281,9.1],[282,9.3],[283,9.1],[283.8,9.0],[284.3,4.17],[285,9.0],[286,9.4],[286.7,10.5],[287.3,9.5],[288,10.5],[288.6,9.3],[289.2,10.5],[289.8,9.6],[290.5,10.5],[291.2,9.2],[291.8,10.5],[292.5,9.3],[293,4.5],[293.5,9.4],[294,2.45],[294.6,9.3],[295.5,9.1],[296.5,8.6],[297.3,9.2],[298,10.5],[298.8,9.5],[299.5,10.5],[300.3,9.4],[300.9,1.72],[301.5,9.1],[302,9.25],[303,9.2],[304,8.9],[304.8,8.45],[305.5,9.0],[306.3,8.52],[307,9.05],[308.5,9.3],[310,9.1],[311.3,9.6],[312.3,9.1],[313.5,9.3],[314.5,8.95],[315.5,9.2],[316.5,8.65],[317.5,9.05],[318.5,9.2],[319.7,9.28],[320.7,9.0],[321.4,8.25],[322.2,9.0],[323.2,9.2],[324.2,9.35],[325.2,9.7],[326.2,9.6],[327.2,9.1],[327.9,8.3],[328.7,9.1],[329.7,9.3],[330.7,9.15],[331.7,9.35],[332.7,9.1],[333.7,9.4],[334.7,9.2],[335.5,9.45],[336.2,9.65],[337,10.5],[337.6,9.8],[338.2,10.5],[339,9.6],[339.8,9.7],[340.7,9.5],[341.5,9.0],[342,8.55],[342.6,9.1],[343.1,8.1],[343.8,9.2],[344.8,10.5],[345.3,9.8],[345.8,10.5],[346.5,9.2],[347.5,9.3],[348.5,9.05],[349.5,9.2],[350.5,9.0],[351.5,9.25],[352.5,9.33],[353.5,9.1],[354.5,9.25],[355.5,9.05],[356.5,9.3],[357.5,9.1],[358.5,9.2],[359.5,8.0],[360.3,9.1],[361,9.3],[362,9.1],[363,9.28],[364,9.05],[365.3,7.23],[366,9.0],[367,9.2],[368,9.05],[369.5,8.06],[370.3,9.1],[371,9.3],[372,9.35],[373,9.2],[374,9.3],[375,9.1],[376,9.25],[377,9.05],[378,9.3],[379,9.1],[380,9.2],[381,9.0],[382.4,8.18],[383.2,9.1],[384,9.42],[385,9.35],[386,9.1],[387,9.2],[388,8.95],[389,9.15],[390,9.2],[391.7,9.44],[392.5,9.1],[393.5,8.9],[394.6,7.57],[395.3,8.85],[396,8.95],[397,8.8],[398,9.0],[399,8.9],[400,9.2],[401,9.55],[401.8,9.8],[402.6,9.6],[403.5,9.2],[404.5,9.1],[405.5,9.25],[406.5,9.05],[407.5,9.2],[408.5,9.0],
[410,9.1],[411,8.99],[412,9.04],[413,8.96],[414,9.06],[415,8.99],[416,8.95],[417,9.05],[418,9.08],[419,8.98],[420,9.0],[421,9.06],[422,8.94],[423,9.0],[424,9.05],[425,8.97],[426,9.12],[427,9.04],[428,9.0],[429,9.1],[430,9.08],[431,9.0],[432,8.96],[433,9.05],[434,9.1],[435,9.0],[436,9.03],[437,9.11],[438,9.14],[439,9.02],[440,9.05],[441,8.99],[442,8.97],[443,9.06],[444,9.08],[445,8.98],[446,9.0],[447,9.04],[448,8.93],[449,8.99],[450,9.04],[451,9.07],[452,9.1],[453,9.0],[454,8.98],[455,9.05],[456,9.03],[457,8.97],[458,8.95],[459,9.02],[460,9.06],[461,8.98],[462,9.0],[463,9.04],[464,8.96],[465,9.0],[466,9.05],[467,8.98],[468,9.01],[469,9.04],[470,8.97],[471,9.01],[472,9.03],[473,8.97],[474,9.0],[475,9.04],[476,8.96],[477,9.0],[478,9.02],[479,8.97],[480,8.98],[481,9.03],[482,9.04],[483,8.98],[484,8.99],[485,9.03],[486,8.96],[487,9.0],[488,9.03],[489,8.97],[490,9.0],[491,9.04],[492,9.05],[493,8.99],[494,8.98],[495,9.04],[496,9.06],[497,8.99],[498,9.02],[499,9.06],[500,9.07],[501,9.0],[502,8.97],[503,9.03],[504,9.05],[505,8.98],[506,8.99],[507,9.05],[508,9.06],[509,8.99],[510,8.95],[511,9.01],[512,9.04],[513,8.97],[514,9.0],[515,9.05],[516,9.08],[517,9.0],[518,8.94],[519,8.99],[520,9.03],[521,8.97],[522,8.98],[523,9.04],[524,9.06],[525,9.0],[526,8.97],[527,9.02],[528,9.02],[529,8.96],[530,8.95],[531,9.01],[532,9.04],[533,9.0],[534,8.98],[535,9.03],[536,9.03],[537,8.97],[538,8.96],[539,9.02],[540,9.05],[541,9.0],[542,8.99],[543,9.04],[544,9.02],[545,8.97],[546,8.96],[547,9.01],[548,9.03],[549,8.98],[550,8.97],[551,9.02],[552,9.01],[553,8.96],[554,8.95],[555,9.0],[556,9.02],[557,8.97],[558,8.98],[559,8.96],[560,8.95],[561,8.99],[562,9.0],[563,9.03],[564,9.04],[565,8.99],[566,8.98],[567,9.02],[568,9.02],[569,9.06],[570,9.07],[571,9.04],[572,9.03],[573,9.06],[574,9.05],[575,9.0],[576,8.99],[577,9.03],[578,9.03],[579,8.98],[580,8.97],[581,9.01],[582,9.02],[583,8.98],[584,8.98],[585,9.02],[586,9.01],[587,8.97],[588,8.97],[589,9.01],[590,9.0],[591,8.97],[592,8.96],[593,9.0],[594,9.02],[595,8.98],[596,8.98],[597,9.02],[598,9.01],[599,8.97],[600,8.96]];

// sources bottom -> top: [grid values or null, feature groups, base level]
const SOURCES: any[] = [
  [null,[C00]],[null,[C02]],[null,[C04]],[null,[C06]],[null,[C08]],[null,[C10]],[null,[C12]],[null,[C14]],[null,[C16]],[null,[C18]],
  [null,[C20]],[null,[C22]],[null,[C24]],[null,[C26]],[null,[C28]],[null,[C30]],[null,[C32]],[null,[C34]],[null,[C36]],[null,[C38]],
  [null,[C40]],[null,[C42]],[null,[C44]],[null,[C46]],[null,[C48]],[null,[C50]],[null,[C52]],[null,[C54]],[null,[C56]],[null,[C58]],
  [null,[C60]],[null,[C62]],[N64,S64],[N66,S66],[N68,S68],[N70,S70],[N72,S72],[N74,S74],[N76,S76],[N78,S78],
  [N80,S80],[N82,S82],[N84,S84],[N86,S86],[N88,S88],[null,[TOP],0]
];

function colorAt(ch: number) {
  for (let i = 0; i < COLOR_STOPS.length - 1; i++) {
    const a = COLOR_STOPS[i], b = COLOR_STOPS[i + 1];
    if (ch <= b[0] + 1e-9) {
      const f = (ch - a[0]) / (b[0] - a[0]);
      const c = [1, 2, 3].map((k) => Math.round(a[k] + (b[k] - a[k]) * f));
      return `rgb(${c[0]},${c[1]},${c[2]})`;
    }
  }
  const l = COLOR_STOPS[COLOR_STOPS.length - 1];
  return `rgb(${l[1]},${l[2]},${l[3]})`;
}

function buildTrace(level: number, grid: number[] | null, groups: number[][][]) {
  const pts: { x: number; y: number }[] = [];
  const ranges = groups.filter((g) => g.length).map((g) => [g[0][0], g[g.length - 1][0]]);
  if (grid) {
    const n = Math.min(grid.length, NOISE_T.length);
    for (let i = 0; i < n; i++) {
      const t = NOISE_T[i];
      if (ranges.some(([a, b]) => t >= a && t <= b)) continue;
      pts.push({ x: t, y: level + grid[i] / 100 });
    }
  }
  groups.forEach((g) => g.forEach(([t, v]) => pts.push({ x: t, y: level + v })));
  pts.sort((a, b) => a.x - b.x);
  return pts;
}

const FONT = "DejaVu Sans";

const framePlugin = {
  id: "frame",
  afterDraw(chart: any) {
    const { ctx, chartArea: a } = chart;
    ctx.save();
    ctx.strokeStyle = "#000";
    ctx.lineWidth = 1.3;
    ctx.strokeRect(a.left, a.top, a.right - a.left, a.bottom - a.top);
    ctx.restore();
  },
};

const minorTickPlugin = {
  id: "minorTicks",
  afterDraw(chart: any) {
    const { ctx, chartArea: a } = chart;
    const xs = chart.scales.x;
    ctx.save();
    ctx.strokeStyle = "#000";
    ctx.lineWidth = 1;
    for (let m = 0; m <= 600; m += 2) {
      if (m % 20 === 0) continue;
      const px = Math.round(xs.getPixelForValue(m)) + 0.5;
      ctx.beginPath();
      ctx.moveTo(px, a.bottom);
      ctx.lineTo(px, a.bottom + 3.5);
      ctx.stroke();
    }
    ctx.restore();
  },
};

const titlePlugin = {
  id: "figTitle",
  afterDraw(chart: any) {
    const { ctx } = chart;
    ctx.save();
    ctx.fillStyle = "#000";
    ctx.font = `19.8px "${FONT}"`;
    ctx.textAlign = "center";
    ctx.textBaseline = "middle";
    ctx.fillText(TITLE, 1000, 40.5);
    ctx.restore();
  },
};

export default function App() {
  const mainRef = useRef<HTMLCanvasElement>(null);
  const sideRef = useRef<HTMLCanvasElement>(null);

  useEffect(() => {
    const datasets: any[] = [];
    CHANNELS.forEach((c) => {
      datasets.push({
        data: [{ x: 10.5, y: c }, { x: 600, y: c }],
        borderColor: "#c6c6c6",
        borderWidth: 2,
        pointRadius: 0,
        order: 1000,
      });
    });
    SOURCES.forEach((s, k) => {
      const base = s.length > 2 ? s[2] : LEVELS[k];
      datasets.push({
        data: buildTrace(base, s[0], s[1]),
        borderColor: colorAt(CHANNELS[k]),
        borderWidth: k === SOURCES.length - 1 ? 2.7 : 2.6,
        pointRadius: 0,
        tension: 0,
        order: SOURCES.length - k,
        clip: 0,
      });
    });

    const tickFont = { family: FONT, size: 15.6 };
    const main = new Chart(mainRef.current as HTMLCanvasElement, {
      type: "line",
      data: { datasets },
      options: {
        animation: false,
        responsive: false,
        devicePixelRatio: 1,
        parsing: false,
        events: [],
        layout: { padding: { left: 0, right: 47, top: 62, bottom: 0 } },
        plugins: { legend: { display: false }, tooltip: { enabled: false }, title: { display: false } },
        scales: {
          x: {
            type: "linear",
            min: 0,
            max: 600,
            afterBuildTicks: (s: any) => { s.ticks = X_MAJOR.map((v) => ({ value: v })); },
            afterFit: (s: any) => { s.height = 46; },
            ticks: {
              autoSkip: false, maxRotation: 0, minRotation: 0, padding: 5, color: "#000", font: tickFont,
              callback: (_v: any, i: number) => X_TICK_LABELS[i],
            },
            grid: { display: true, drawOnChartArea: false, drawTicks: true, tickLength: 6, tickColor: "#000", tickWidth: 1.2, color: "#000" },
            border: { display: true, color: "#000", width: 1.3 },
          },
          y: {
            type: "linear",
            min: -0.2,
            max: 10,
            afterBuildTicks: (s: any) => { s.ticks = Y_TICKS.map((v) => ({ value: v })); },
            afterFit: (s: any) => { s.width = 49.3; },
            ticks: { autoSkip: false, padding: 3.5, color: "#000", font: tickFont, callback: (v: any) => String(v) },
            grid: { display: true, drawOnChartArea: false, drawTicks: true, tickLength: 7, tickColor: "#000", tickWidth: 1.2, color: "#000" },
            border: { display: true, color: "#000", width: 1.3 },
          },
        },
      } as any,
      plugins: [framePlugin, minorTickPlugin, titlePlugin],
    });

    const dots = CHANNELS.map((c, i) => ({ x: DOT_X[i], y: c }));
    const side = new Chart(sideRef.current as HTMLCanvasElement, {
      type: "scatter",
      data: {
        datasets: [
          { type: "line", data: dots, borderColor: "rgba(45,45,45,0.85)", borderWidth: 1.3, pointRadius: 0, fill: false, order: 1, tension: 0 } as any,
          { type: "scatter", data: dots, pointRadius: 6, pointBackgroundColor: CHANNELS.map((c) => colorAt(c)), pointBorderWidth: 0, order: 2 } as any,
        ],
      },
      options: {
        animation: false,
        responsive: false,
        devicePixelRatio: 1,
        events: [],
        layout: { padding: { left: 0, right: 18, top: 62, bottom: 0 } },
        plugins: { legend: { display: false }, tooltip: { enabled: false } },
        scales: {
          x: {
            type: "linear",
            min: -1.67,
            max: 1.58,
            afterBuildTicks: (s: any) => { s.ticks = PANEL_X_TICKS.map((v) => ({ value: v })); },
            afterFit: (s: any) => { s.height = 46; },
            ticks: { autoSkip: false, callback: () => "" },
            grid: { display: true, drawOnChartArea: false, drawTicks: true, tickLength: 5, tickColor: "#000", tickWidth: 1.2, color: "#000" },
            border: { display: true, color: "#000", width: 1.3 },
          },
          y: {
            type: "linear",
            min: -0.2,
            max: 10,
            afterBuildTicks: (s: any) => { s.ticks = Y_TICKS.map((v) => ({ value: v })); },
            afterFit: (s: any) => { s.width = 30; },
            ticks: { autoSkip: false, callback: () => "" },
            grid: { display: true, drawOnChartArea: false, drawTicks: true, tickLength: 6, tickColor: "#000", tickWidth: 1.2, color: "#000" },
            border: { display: true, color: "#000", width: 1.3 },
          },
        },
      } as any,
      plugins: [framePlugin],
    });

    return () => { main.destroy(); side.destroy(); };
  }, []);

  return (
    <div style={{ position: "absolute", left: 0, top: 0, width: 2000, height: 1500, background: "#fff" }}>
      <canvas ref={mainRef} width={1930} height={1500} style={{ position: "absolute", left: 0, top: 0, width: 1930, height: 1500 }} />
      <canvas ref={sideRef} width={100} height={1500} style={{ position: "absolute", left: 1900, top: 0, width: 100, height: 1500 }} />
    </div>
  );
}
